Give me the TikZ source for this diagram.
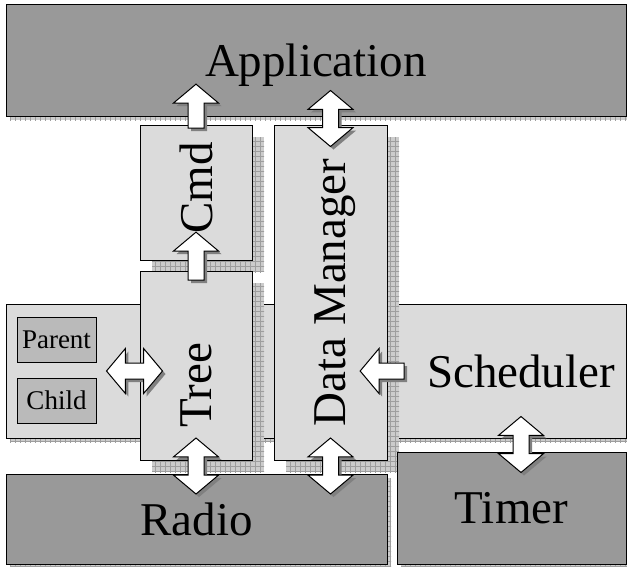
\documentclass[tikz,border=0pt]{standalone}
\usepackage{fontspec}
\setmainfont{Liberation Serif}
\usetikzlibrary{shapes.arrows,shadows,patterns,calc}

\pgfdeclarepatternformonly{widegrid}{\pgfqpoint{-1pt}{-1pt}}{\pgfqpoint{5pt}{5pt}}{\pgfqpoint{5pt}{5pt}}{
    \pgfsetlinewidth{0.7pt}
    \pgfpathmoveto{\pgfqpoint{0pt}{0pt}}\pgfpathlineto{\pgfqpoint{5.1pt}{0pt}}
    \pgfpathmoveto{\pgfqpoint{0pt}{0pt}}\pgfpathlineto{\pgfqpoint{0pt}{5.1pt}}
    \pgfusepath{stroke}}

\begin{document}
\begin{tikzpicture}[x=1pt,y=-1pt,
        grid shadow/.style={general shadow={shadow xshift=#1, shadow yshift=-#1, fill=black!20},
            general shadow={shadow xshift=#1, shadow yshift=-#1, pattern=widegrid, pattern color=black!38}},
        box/.style={draw, line width=1pt, inner sep=0pt, text depth=0pt, font=\fontsize{47}{47}\selectfont},
        dark/.style={box, fill=black!40, grid shadow=4pt},
        light/.style={box, fill=black!14, grid shadow=4pt},
        tall/.style={box, fill=black!14, grid shadow=12pt},
        small/.style={draw, line width=1pt, fill=black!27, inner sep=0pt, text depth=0pt,
            minimum width=79pt, minimum height=45pt, font=\fontsize{27}{27}\selectfont},
        fat/.style={draw, line width=1pt, fill=white, inner sep=7.5pt, minimum width=0pt,
            drop shadow={shadow xshift=3pt, shadow yshift=-3pt, fill=black!50, opacity=1}},
        two/.style={fat, double arrow, double arrow head extend=14.5pt, double arrow tip angle=100,
            minimum height=#1},
        one/.style={fat, single arrow, single arrow head extend=14.5pt, single arrow tip angle=100,
            minimum height=#1}]
    \useasboundingbox (0,0) rectangle (627,566);
    \node [dark, minimum width=620pt, minimum height=112pt] (app) at (316,60) {Application};
    \node [light, minimum width=620pt, minimum height=134pt] (sched) at (316,371) {};
    \node (schedtext) [font=\fontsize{47}{47}\selectfont, text depth=0pt] at (521,371) {Scheduler};
    \node [small] (parent) at (56.5,339.5) {Parent};
    \node [small] (child) at (56.5,400.5) {Child};
    \node [tall, minimum width=112pt, minimum height=135pt] (cmd) at (196,192.5) {};
    \node (cmdtext) [rotate=90, font=\fontsize{47}{47}\selectfont, text depth=0pt] at (196,188) {Cmd};
    \node [tall, minimum width=112pt, minimum height=189pt] (tree) at (196,365.5) {};
    \node (treetext) [rotate=90, font=\fontsize{47}{47}\selectfont, text depth=0pt] at (196,385) {Tree};
    \node [tall, minimum width=113pt, minimum height=335pt] (dm) at (330.5,292.5) {};
    \node (dmtext) [rotate=90, font=\fontsize{47}{47}\selectfont, text depth=0pt] at (330.5,292.5) {Data Manager};
    \node [dark, minimum width=381pt, minimum height=90pt] (radio) at (196.5,519) {Radio};
    \node [dark, minimum width=229pt, minimum height=112pt] (timer) at (511.5,508) {Timer};

    \node [one=44pt, rotate=90] (cmdapp) at ($(cmd.north)+(0,-15)$) {};
    \node [one=48pt, rotate=90] (treecmd) at ($(cmd.south)+(0,-1)$) {};
    \node [two=56pt, rotate=90] (appdm) at ($(dm.north)+(0,-6)$) {};
    \node [two=56pt] (parenttree) at ($(tree.west |- sched)+(-5,0)$) {};
    \node [one=44pt, rotate=180] (scheddm) at ($(dm.east |- sched)+(-2,0)$) {};
    \node [two=56pt, rotate=90] (treeradio) at ($(tree.south)+(0,5.5)$) {};
    \node [two=56pt, rotate=90] (dmradio) at ($(dm.south)+(0,5.5)$) {};
    \node [two=56pt, rotate=90] (schedtimer) at ($(schedtext |- timer.north)+(0,-7)$) {};
\end{tikzpicture}
\end{document}
